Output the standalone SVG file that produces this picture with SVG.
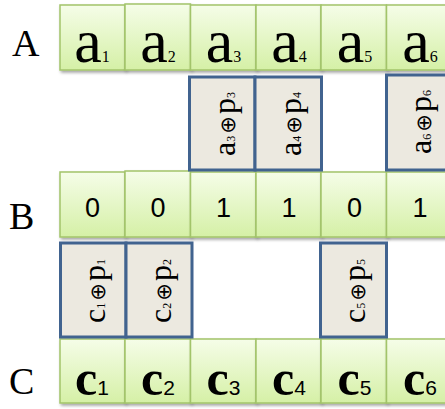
<svg xmlns="http://www.w3.org/2000/svg" width="445" height="409" viewBox="0 0 445 409">
<defs>
<linearGradient id="g" x1="0" y1="0" x2="0" y2="1">
<stop offset="0" stop-color="#f5fde8"/>
<stop offset="1" stop-color="#d5f0a6"/>
</linearGradient>
<filter id="sh" x="-10%" y="-10%" width="130%" height="130%">
<feDropShadow dx="1.5" dy="2" stdDeviation="1.5" flood-color="#000" flood-opacity="0.35"/>
</filter>
<style>
.cell{fill:url(#g);stroke:#a2c46a;stroke-width:1.5;filter:url(#sh)}
.box{fill:#ece9e0;stroke:#41638f;stroke-width:3}
.lbl{font-family:"Liberation Serif",serif;font-size:38px;fill:#000}
.a{font-family:"Liberation Serif",serif;font-size:62px;fill:#000;text-anchor:middle}
.as{font-size:16px}
.c{font-family:"Liberation Serif",serif;font-size:50px;font-weight:bold;fill:#000;text-anchor:middle}
.cs{font-family:"Liberation Sans",sans-serif;font-size:21px;font-weight:normal}
.b{font-family:"Liberation Sans",sans-serif;font-size:27px;fill:#000;text-anchor:middle}
.r{font-family:"Liberation Serif",serif;font-size:32px;fill:#000;text-anchor:middle}
.rs{font-size:12px}
.op{font-family:"DejaVu Sans",sans-serif;font-size:21px}
</style>
</defs>
<text class="lbl" x="12" y="56">A</text>
<text class="lbl" x="9" y="229">B</text>
<text class="lbl" x="9" y="394">C</text>

<g id="rowA">
<g id="a1"><rect class="cell" x="60" y="5" width="65" height="65"/><text class="a" x="92" y="62">a<tspan class="as">1</tspan></text></g>
<g id="a2"><rect class="cell" x="125" y="4" width="65.5" height="66"/><text class="a" x="158" y="62">a<tspan class="as">2</tspan></text></g>
<g id="a3"><rect class="cell" x="190.5" y="5" width="65.5" height="65"/><text class="a" x="223.5" y="62">a<tspan class="as">3</tspan></text></g>
<g id="a4"><rect class="cell" x="256" y="5" width="65" height="65"/><text class="a" x="289" y="62">a<tspan class="as">4</tspan></text></g>
<g id="a5"><rect class="cell" x="321" y="5" width="65.5" height="65"/><text class="a" x="354.5" y="62">a<tspan class="as">5</tspan></text></g>
<g id="a6"><rect class="cell" x="386.5" y="5" width="66" height="65"/><text class="a" x="420" y="62">a<tspan class="as">6</tspan></text></g>
</g>

<g id="rowB">
<g id="b1"><rect class="cell" x="60" y="172" width="65" height="65"/><text class="b" x="92.5" y="217">0</text></g>
<g id="b2"><rect class="cell" x="125" y="171" width="65.5" height="66"/><text class="b" x="158" y="217">0</text></g>
<g id="b3"><rect class="cell" x="190.5" y="172" width="65.5" height="65"/><text class="b" x="223.5" y="217">1</text></g>
<g id="b4"><rect class="cell" x="256" y="172" width="65" height="65"/><text class="b" x="289" y="217">1</text></g>
<g id="b5"><rect class="cell" x="321" y="172" width="65.5" height="65"/><text class="b" x="354.5" y="217">0</text></g>
<g id="b6"><rect class="cell" x="386.5" y="172" width="66" height="65"/><text class="b" x="420" y="217">1</text></g>
</g>

<g id="rowC">
<g id="c1"><rect class="cell" x="60" y="339" width="65" height="64"/><text class="c" x="92" y="395">c<tspan class="cs">1</tspan></text></g>
<g id="c2"><rect class="cell" x="125" y="339" width="65.5" height="64"/><text class="c" x="158" y="395">c<tspan class="cs">2</tspan></text></g>
<g id="c3"><rect class="cell" x="190.5" y="339" width="65.5" height="64"/><text class="c" x="223.5" y="395">c<tspan class="cs">3</tspan></text></g>
<g id="c4"><rect class="cell" x="256" y="339" width="65" height="64"/><text class="c" x="289" y="395">c<tspan class="cs">4</tspan></text></g>
<g id="c5"><rect class="cell" x="321" y="339" width="65.5" height="64"/><text class="c" x="354.5" y="395">c<tspan class="cs">5</tspan></text></g>
<g id="c6"><rect class="cell" x="386.5" y="339" width="66" height="64"/><text class="c" x="420" y="395">c<tspan class="cs">6</tspan></text></g>
</g>

<g id="xorA">
<g id="x3"><rect class="box" x="189.5" y="77" width="65.5" height="93"/><text class="r" transform="translate(235,124) rotate(-90)">a<tspan class="rs">3</tspan><tspan class="op" dx="2">⊕</tspan><tspan dx="2">p</tspan><tspan class="rs">3</tspan></text></g>
<g id="x4"><rect class="box" x="255" y="77" width="66.5" height="93"/><text class="r" transform="translate(301,124) rotate(-90)">a<tspan class="rs">4</tspan><tspan class="op" dx="2">⊕</tspan><tspan dx="2">p</tspan><tspan class="rs">4</tspan></text></g>
<g id="x6"><rect class="box" x="386.5" y="75" width="70" height="95"/><text class="r" transform="translate(431,122) rotate(-90)">a<tspan class="rs">6</tspan><tspan class="op" dx="2">⊕</tspan><tspan dx="2">p</tspan><tspan class="rs">6</tspan></text></g>
</g>

<g id="xorC">
<g id="y1"><rect class="box" x="60.5" y="243" width="65.5" height="94"/><text class="r" transform="translate(105,291) rotate(-90)">c<tspan class="rs">1</tspan><tspan class="op" dx="2">⊕</tspan><tspan dx="2">p</tspan><tspan class="rs">1</tspan></text></g>
<g id="y2"><rect class="box" x="126" y="243" width="66" height="94"/><text class="r" transform="translate(171,291) rotate(-90)">c<tspan class="rs">2</tspan><tspan class="op" dx="2">⊕</tspan><tspan dx="2">p</tspan><tspan class="rs">2</tspan></text></g>
<g id="y5"><rect class="box" x="320.5" y="243" width="66" height="94"/><text class="r" transform="translate(365,291) rotate(-90)">c<tspan class="rs">5</tspan><tspan class="op" dx="2">⊕</tspan><tspan dx="2">p</tspan><tspan class="rs">5</tspan></text></g>
</g>
</svg>
